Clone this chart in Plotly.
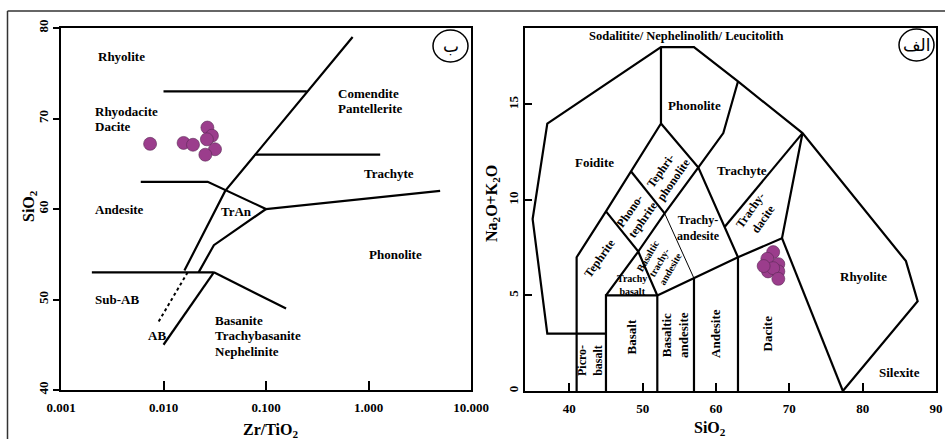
import math
import plotly.graph_objects as go

# ---------------- data ----------------
# Left panel: Winchester & Floyd (Zr/TiO2 vs SiO2)
wf_zr_tio2 = [0.0074, 0.0157, 0.0194, 0.0268, 0.0297, 0.0265, 0.0318, 0.0256]
wf_sio2 = [67.2, 67.3, 67.1, 69.0, 68.1, 67.7, 66.6, 66.0]

# Right panel: TAS (SiO2 vs Na2O+K2O)
tas_sio2 = [67.8, 67.0, 68.5, 67.1, 68.5, 67.8, 68.5, 66.5]
tas_alk = [7.27, 6.92, 6.64, 6.26, 6.26, 6.43, 5.87, 6.54]

wf_tickvals = [0.001, 0.01, 0.1, 1, 10]
wf_ticktext = ["0.001", "0.010", "0.100", "1.000", "10.000"]
wf_yticks = [40, 50, 60, 70, 80]
tas_xticks = [40, 50, 60, 70, 80, 90]
tas_yticks = [0, 5, 10, 15]

# field boundaries, Winchester & Floyd
wf_lines = [
    [(0.70, 79.0), (0.040, 62.0), (0.016, 53.2)],
    [(0.010, 73.0), (0.25, 73.0)],
    [(0.078, 66.0), (1.3, 66.0)],
    [(0.006, 63.0), (0.027, 63.0), (0.100, 60.0), (5.0, 62.0)],
    [(0.100, 60.0), (0.031, 56.0), (0.022, 53.0)],
    [(0.002, 53.0), (0.031, 53.0)],
    [(0.031, 53.0), (0.157, 49.0)],
    [(0.031, 53.0), (0.010, 45.0)],
]
wf_dashed = [(0.0172, 53.0), (0.0089, 47.5)]

# field boundaries, TAS
tas_lines = [
    [(45, 3), (37, 3), (35, 9), (37, 14), (52.5, 18), (57, 18), (63, 16.2),
     (71.8, 13.5), (85.9, 6.8), (87.5, 4.7), (77.3, 0)],
    [(41, 0), (41, 7), (45, 9.4), (48.4, 11.5), (52.5, 14), (52.5, 18)],
    [(45, 0), (45, 5), (52, 5), (52, 0)],
    [(45, 5), (49.4, 7.3), (52, 5)],
    [(45, 9.4), (49.4, 7.3), (53, 9.3), (57.6, 11.7)],
    [(48.4, 11.5), (53, 9.3)],
    [(52.5, 14), (57.6, 11.7), (63, 7)],
    [(57.6, 11.7), (61, 13.5), (63, 16.2)],
    [(52, 5), (57, 5.9), (63, 7), (69, 8), (71.8, 13.5)],
    [(69, 8), (77.3, 0)],
    [(57, 0), (57, 5.9)],
    [(63, 0), (63, 7)],
    [(61.2, 8.6), (71.8, 13.5)],
]
tas_thin = [(53, 9.3), (57, 5.9)]

# ---------------- figure ----------------
W, H = 945, 439
FONT = "Liberation Serif"
MARK = "#9B3D8C"


def px(x):
    return x / W


def py(y):
    return (H - y) / H


fig = go.Figure()

for ln in wf_lines:
    fig.add_trace(go.Scatter(x=[p[0] for p in ln], y=[p[1] for p in ln], mode="lines",
                             line=dict(color="black", width=2.2), xaxis="x", yaxis="y",
                             hoverinfo="skip"))
fig.add_trace(go.Scatter(x=[p[0] for p in wf_dashed], y=[p[1] for p in wf_dashed], mode="lines",
                         line=dict(color="black", width=2, dash="3px,3px"), xaxis="x", yaxis="y",
                         hoverinfo="skip"))
fig.add_trace(go.Scatter(x=wf_zr_tio2, y=wf_sio2, mode="markers", xaxis="x", yaxis="y",
                         marker=dict(size=13, color=MARK, line=dict(color="#5a2a55", width=0.6))))

for ln in tas_lines:
    fig.add_trace(go.Scatter(x=[p[0] for p in ln], y=[p[1] for p in ln], mode="lines",
                             line=dict(color="black", width=2.2), xaxis="x2", yaxis="y2",
                             hoverinfo="skip"))
fig.add_trace(go.Scatter(x=[p[0] for p in tas_thin], y=[p[1] for p in tas_thin], mode="lines",
                         line=dict(color="black", width=1), xaxis="x2", yaxis="y2",
                         hoverinfo="skip"))
fig.add_trace(go.Scatter(x=tas_sio2, y=tas_alk, mode="markers", xaxis="x2", yaxis="y2",
                         marker=dict(size=13, color=MARK, line=dict(color="#5a2a55", width=0.6))))

tickfont = dict(family=FONT, size=13, color="black", weight="bold")
common = dict(showgrid=False, zeroline=False, showline=True, mirror=True,
              linecolor="black", linewidth=2.2, tickfont=tickfont, tickcolor="black",
              tickwidth=1.5, automargin=False)

fig.update_layout(
    width=W, height=H, margin=dict(l=0, r=0, t=0, b=0, autoexpand=False),
    paper_bgcolor="white", plot_bgcolor="white", showlegend=False,
    xaxis=dict(domain=[px(61), px(471)], type="log", range=[-3, 1],
               tickvals=wf_tickvals, ticktext=wf_ticktext, ticks="inside", ticklen=9,
               ticklabelstandoff=4, anchor="y", **common),
    yaxis=dict(domain=[py(390), py(28)], range=[40, 80], tickvals=wf_yticks,
               ticks="outside", ticklen=6, tickangle=-90, anchor="x", **common),
    xaxis2=dict(domain=[px(525), px(936)], range=[33.96, 90.0], tickvals=tas_xticks,
                ticks="inside", ticklen=8, ticklabelstandoff=4, anchor="y2", **common),
    yaxis2=dict(domain=[py(391), py(28)], range=[0, 19], tickvals=tas_yticks,
                ticks="inside", ticklen=7, tickangle=-90, anchor="x2", **common),
)

annots = []


def lab(x, y, text, xref, yref, size=13, angle=0, xanchor="center", align="center"):
    annots.append(dict(x=x, y=y, xref=xref, yref=yref, text=text, showarrow=False,
                       textangle=angle, xanchor=xanchor, yanchor="middle", align=align,
                       font=dict(family=FONT, size=size, color="black", weight="bold")))


# left panel labels (log x positions)
lab(-2.405, 76.8, "Rhyolite", "x", "y")
lab(-2.691, 70.75, "Rhyodacite", "x", "y", xanchor="left")
lab(-2.691, 69.09, "Dacite", "x", "y", xanchor="left")
lab(-0.320, 72.71, "Comendite", "x", "y", xanchor="left")
lab(-0.320, 71.08, "Pantellerite", "x", "y", xanchor="left")
lab(0.200, 63.87, "Trachyte", "x", "y")
lab(-2.691, 60.0, "Andesite", "x", "y", xanchor="left")
lab(-1.286, 59.70, "TrAn", "x", "y")
lab(0.265, 55.0, "Phonolite", "x", "y")
lab(-2.691, 50.02, "Sub-AB", "x", "y", xanchor="left")
lab(-2.066, 45.97, "AB", "x", "y")
lab(-1.520, 47.73, "Basanite", "x", "y", xanchor="left")
lab(-1.520, 45.97, "Trachybasanite", "x", "y", xanchor="left")
lab(-1.520, 44.23, "Nephelinite", "x", "y", xanchor="left")

# right panel labels
lab(56.0, 18.57, "Sodalitite/ Nephelinolith/ Leucitolith", "x2", "y2", size=12.5)
lab(57.03, 14.96, "Phonolite", "x2", "y2")
lab(43.5, 11.94, "Foidite", "x2", "y2")
lab(53.4, 11.3, "Tephri-<br>phonolite", "x2", "y2", size=12, angle=-55)
lab(63.49, 11.52, "Trachyte", "x2", "y2")
lab(49.2, 9.2, "Phono-<br>tephrite", "x2", "y2", size=12, angle=-55)
lab(44.18, 6.94, "Tephrite", "x2", "y2", size=12, angle=-55)
lab(57.57, 8.52, "Trachy-<br>andesite", "x2", "y2", size=12)
lab(65.57, 9.2, "Trachy-<br>dacite", "x2", "y2", size=12, angle=-55)
lab(52.2, 6.75, "Basaltic<br>trachy-<br>andesite", "x2", "y2", size=10, angle=-60)
lab(48.5, 5.54, "Trachy<br>basalt", "x2", "y2", size=10)
lab(80.05, 6.01, "Rhyolite", "x2", "y2")
lab(42.82, 1.62, "Picro-<br>basalt", "x2", "y2", size=12, angle=-90)
lab(48.5, 2.84, "Basalt", "x2", "y2", angle=-90)
lab(54.4, 2.93, "Basaltic<br>andesite", "x2", "y2", angle=-90)
lab(59.95, 3.02, "Andesite", "x2", "y2", angle=-90)
lab(66.98, 3.02, "Dacite", "x2", "y2", angle=-90)
lab(84.96, 0.96, "Silexite", "x2", "y2")

# axis titles
lab(px(29), py(206), "SiO<sub>2</sub>", "paper", "paper", size=16, angle=-90)
lab(px(271), py(430), "Zr/TiO<sub>2</sub>", "paper", "paper", size=16)
lab(px(492), py(204), "Na<sub>2</sub>O+K<sub>2</sub>O", "paper", "paper", size=16, angle=-90)
lab(px(710), py(428), "SiO<sub>2</sub>", "paper", "paper", size=16)

# circled panel letters
for cx, cy, t in [(450.5, 46, "ب"), (916.5, 45, "الف")]:
    annots.append(dict(x=px(cx), y=py(cy), xref="paper", yref="paper", text=t,
                       showarrow=False, xanchor="center", yanchor="middle",
                       font=dict(family="DejaVu Sans", size=17, color="black")))

fig.update_layout(annotations=annots)

shapes = [
    dict(type="circle", xref="paper", yref="paper", x0=px(433), x1=px(468),
         y0=py(62), y1=py(30), line=dict(color="black", width=1.5)),
    dict(type="circle", xref="paper", yref="paper", x0=px(899), x1=px(934),
         y0=py(61), y1=py(29), line=dict(color="black", width=1.5)),
    dict(type="line", xref="paper", yref="paper", x0=px(7.5), x1=1.0, y0=py(11), y1=py(11),
         line=dict(color="#333333", width=1.5)),
    dict(type="line", xref="paper", yref="paper", x0=px(7.5), x1=px(7.5), y0=py(11), y1=0,
         line=dict(color="#333333", width=1.5)),
]
fig.update_layout(shapes=shapes)

fig.write_html("out.html", config={"displayModeBar": False},
               post_script="document.body.style.margin='0px';")
